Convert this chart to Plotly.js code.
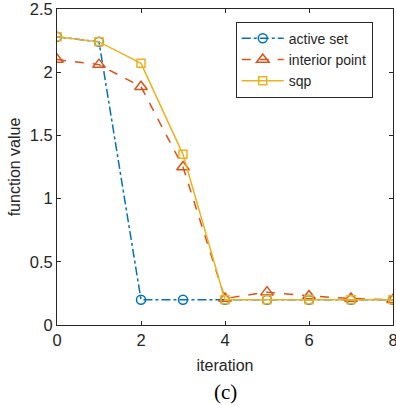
<!DOCTYPE html>
<html><head><meta charset="utf-8">
<script src="https://cdn.plot.ly/plotly-3.0.1.min.js"></script>
<style>html,body{margin:0;padding:0;background:#fff;}#chart{width:396px;height:405px;}</style>
</head><body><div id="chart"></div>
<script>
const iterations = [0, 1, 2, 3, 4, 5, 6, 7, 8];
const activeSet = [2.28, 2.24, 0.20, 0.20, 0.20, 0.20, 0.20, 0.20, 0.20];
const interiorPoint = [2.10, 2.06, 1.885, 1.25, 0.21, 0.26, 0.23, 0.21, 0.20];
const sqp = [2.28, 2.24, 2.07, 1.35, 0.20, 0.20, 0.20, 0.20, 0.20];
const xTicks = [0, 2, 4, 6, 8];
const yTicks = [0, 0.5, 1, 1.5, 2, 2.5];
const yTickText = ['0', '0.5', '1', '1.5', '2', '2.5'];

const traces = [
  {x: iterations, y: activeSet, name: 'active set', mode: 'lines+markers',
   line: {color: '#0072BD', dash: 'dashdot', width: 1.5},
   marker: {symbol: 'circle-open', size: 9, color: '#0072BD', line: {width: 1.5}}},
  {x: iterations, y: interiorPoint, name: 'interior point', mode: 'lines+markers',
   line: {color: '#D95319', dash: 'dash', width: 1.5},
   marker: {symbol: 'triangle-up-open', size: 11, color: '#D95319', line: {width: 1.5}}},
  {x: iterations, y: sqp, name: 'sqp', mode: 'lines+markers',
   line: {color: '#EDB120', dash: 'solid', width: 1.5},
   marker: {symbol: 'square-open', size: 8, color: '#EDB120', line: {width: 1.5}}}
];

const axisCommon = {showline: true, linecolor: '#262626', linewidth: 1, mirror: 'ticks',
  ticks: 'inside', ticklen: 4, tickcolor: '#262626', showgrid: false, zeroline: false,
  ticklabeloverflow: 'allow',
  tickfont: {family: 'Liberation Sans, Arial, sans-serif', size: 16.5, color: '#262626'}};

const layout = {
  width: 396, height: 405,
  margin: {l: 57, r: 3, t: 9, b: 80},
  paper_bgcolor: '#fff', plot_bgcolor: '#fff',
  font: {family: 'Liberation Sans, Arial, sans-serif', color: '#262626'},
  xaxis: Object.assign({}, axisCommon, {range: [0, 8], tickvals: xTicks,
    title: {text: 'iteration', font: {size: 16, color: '#262626'}, standoff: 12}}),
  yaxis: Object.assign({}, axisCommon, {range: [0, 2.5], tickvals: yTicks, ticktext: yTickText,
    title: {text: 'function value', font: {size: 16, color: '#262626'}, standoff: 5}}),
  showlegend: true,
  legend: {x: 0.532, y: 0.96, xanchor: 'left', yanchor: 'top',
    bordercolor: '#262626', borderwidth: 1, bgcolor: '#fff',
    font: {size: 14, color: '#262626'}, tracegroupgap: 0, itemwidth: 42},
  annotations: [{text: '(c)', xref: 'paper', yref: 'paper', x: 0.5, y: -0.212,
    xanchor: 'center', yanchor: 'middle', showarrow: false,
    font: {family: 'Liberation Serif, Times New Roman, serif', size: 21, color: '#000'}}]
};

Plotly.newPlot('chart', traces, layout, {displayModeBar: false, staticPlot: true});
</script>
</body></html>
